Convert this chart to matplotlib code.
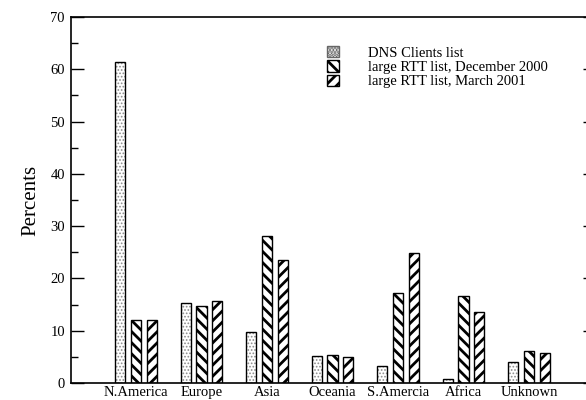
import matplotlib.pyplot as plt
import numpy as np
from matplotlib.ticker import MultipleLocator
from matplotlib.patches import Patch

regions = ['N.America', 'Europe', 'Asia', 'Oceania', 'S.Amercia', 'Africa', 'Unknown']
dns_clients = [61.3, 15.3, 9.8, 5.2, 3.3, 0.8, 4.1]
rtt_dec2000 = [12.0, 14.7, 28.2, 5.3, 17.3, 16.6, 6.2]
rtt_mar2001 = [12.0, 15.6, 23.5, 4.9, 24.8, 13.5, 5.8]
labels = ['DNS Clients list', 'large RTT list, December 2000', 'large RTT list, March 2001']

plt.rcParams['font.family'] = ['Liberation Serif', 'DejaVu Serif']

fig = plt.figure(figsize=(5.86, 4), dpi=100)
ax = fig.add_axes([70.5 / 586, 17 / 400, 524 / 586, 366 / 400])

x = np.arange(1, len(regions) + 1)
w = 0.155
off = 0.24

# light dotted fill: hatch drawn in grey, outline drawn on top in black
plt.rcParams['hatch.linewidth'] = 0.8
ax.bar(x - off, dns_clients, w, color='white', edgecolor='#8c8c8c', linewidth=0,
       hatch='.....')
plt.rcParams['hatch.linewidth'] = 2.0
ax.bar(x - off, dns_clients, w, fill=False, edgecolor='black', linewidth=1)
ax.bar(x, rtt_dec2000, w, color='white', edgecolor='black', linewidth=1,
       hatch='\\\\\\')
ax.bar(x + off, rtt_mar2001, w, color='white', edgecolor='black', linewidth=1,
       hatch='///')

# legend handles
plt.rcParams['hatch.linewidth'] = 0.8
h0 = Patch(facecolor='white', edgecolor='#666666', hatch='.....', linewidth=1)
plt.rcParams['hatch.linewidth'] = 2.0
h1 = Patch(facecolor='white', edgecolor='black', hatch='\\\\\\', linewidth=1)
h2 = Patch(facecolor='white', edgecolor='black', hatch='///', linewidth=1)

ax.set_xlim(0, 8)
ax.set_ylim(0, 70)
ax.set_xticks(x)
ax.set_xticklabels(regions, fontsize=10.5)
ax.tick_params(axis='x', length=0, pad=2)
ax.yaxis.set_major_locator(MultipleLocator(10))
ax.yaxis.set_minor_locator(MultipleLocator(5))
ax.tick_params(axis='y', which='major', direction='in', length=9, width=1,
               left=True, right=True, labelsize=10.5, pad=4)
ax.tick_params(axis='y', which='minor', direction='in', length=5, width=1,
               left=True, right=True)
for s in ax.spines.values():
    s.set_linewidth(1.2)

ax.set_ylabel('Percents', fontsize=15, labelpad=7)

ax.legend([h0, h1, h2], labels, loc='upper left',
          bbox_to_anchor=(327 / 586, 1 - 46 / 400),
          bbox_transform=fig.transFigure, frameon=False, fontsize=10.5,
          handlelength=0.8, handleheight=0.8, handletextpad=2.0,
          labelspacing=0.05, borderaxespad=0, borderpad=0)

fig.savefig('out.png', dpi=100)
